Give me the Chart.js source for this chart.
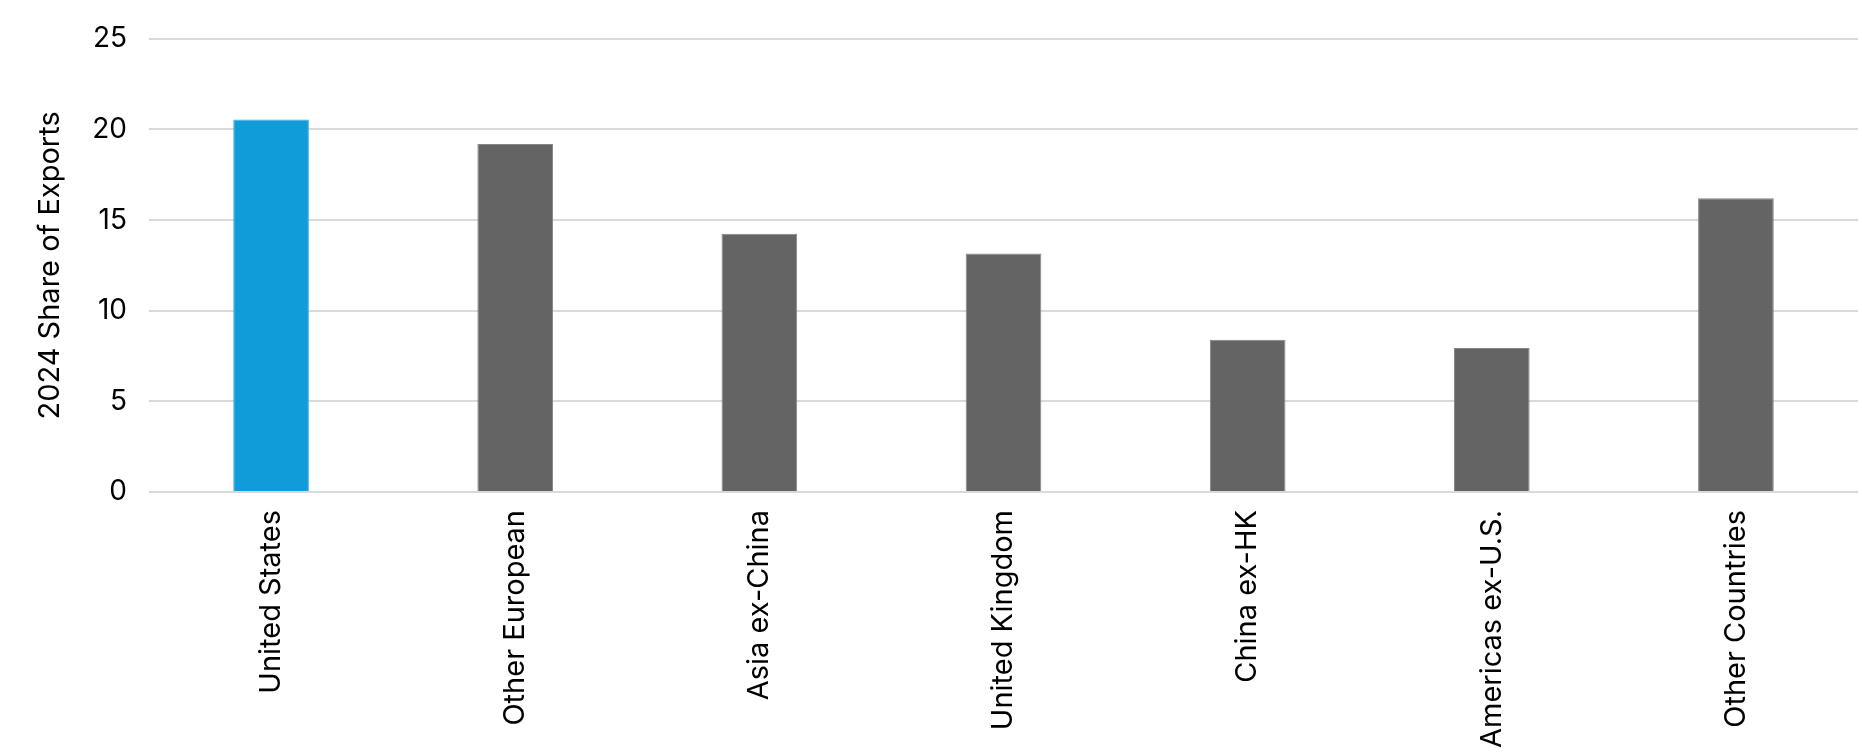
<!DOCTYPE html>
<html>
<head>
<meta charset="utf-8">
<script src="https://cdn.jsdelivr.net/npm/chart.js@4"></script>
<style>
  body { margin: 0; background: #fff; }
  canvas { display: block; }
</style>
</head>
<body>
<canvas id="grafico" width="1862" height="754"></canvas>
<script>
// datos
const categorias = ["United States", "Other European", "Asia ex-China", "United Kingdom", "China ex-HK", "Americas ex-U.S.", "Other Countries"];
const valores = [20.55, 19.2, 14.25, 13.15, 8.4, 7.95, 16.2];
const colores = ["#0F9CD8", "#646464", "#646464", "#646464", "#646464", "#646464", "#646464"];
const bordes = ["#45b1e0", "#858585", "#858585", "#858585", "#858585", "#858585", "#858585"];
const ticksY = [0, 5, 10, 15, 20, 25];

const fuente = "Inter, 'Liberation Sans', sans-serif";

const ctx = document.getElementById("grafico").getContext("2d");
const grafico = new Chart(ctx, {
    type: 'bar',
    data: {
        labels: categorias,
        datasets: [{
            data: valores,
            backgroundColor: colores,
            borderColor: bordes,
            borderWidth: 1,
            barPercentage: 0.31,
            categoryPercentage: 1
        }]
    },
    options: {
        responsive: false,
        animation: false,
        layout: { padding: { top: 38, right: 4, left: 0, bottom: 0 } },
        plugins: {
            legend: { display: false },
            tooltip: { enabled: false }
        },
        scales: {
            x: {
                grid: { display: false },
                border: { display: false },
                ticks: {
                    color: '#000',
                    font: { family: fuente, size: 29 },
                    minRotation: 90,
                    maxRotation: 90,
                    padding: 10,
                    autoSkip: false
                },
                afterFit: function(scale) { scale.height = 262; }
            },
            y: {
                min: 0,
                max: 25,
                afterBuildTicks: function(scale) {
                    scale.ticks = ticksY.map(v => ({ value: v }));
                },
                grid: { color: '#d9d9d9', lineWidth: 2, drawTicks: false },
                border: { display: false },
                ticks: {
                    color: '#000',
                    font: { family: fuente, size: 28 },
                    padding: 22
                },
                title: {
                    display: true,
                    text: '2024 Share of Exports',
                    color: '#000',
                    font: { family: fuente, size: 29 },
                    padding: { top: 33, bottom: 0 }
                },
                afterFit: function(scale) { scale.width = 149; }
            }
        }
    }
});
</script>
</body>
</html>
